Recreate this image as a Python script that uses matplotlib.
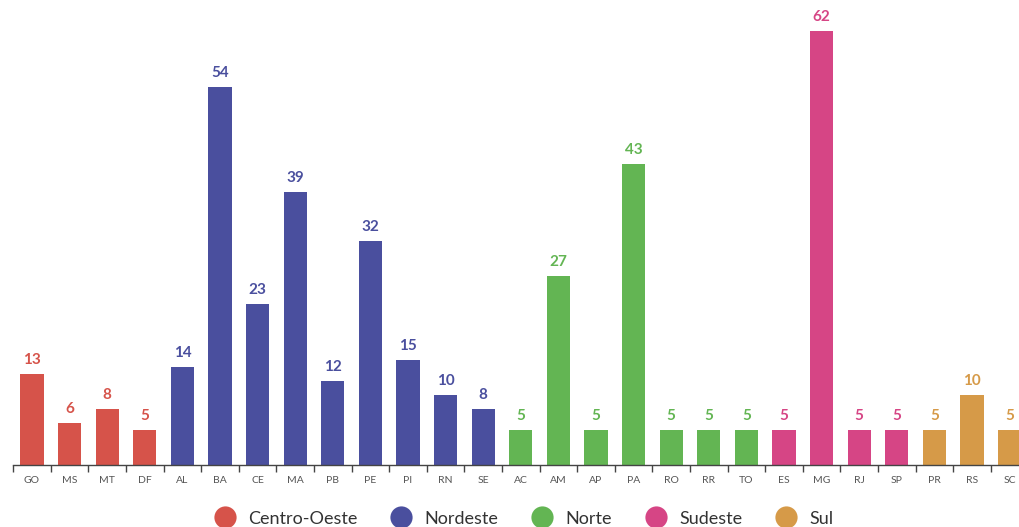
import matplotlib.pyplot as plt
from matplotlib.lines import Line2D
import numpy as np

plt.rcParams['font.family'] = ['Lato', 'DejaVu Sans']

states = ['GO', 'MS', 'MT', 'DF', 'AL', 'BA', 'CE', 'MA', 'PB', 'PE', 'PI', 'RN', 'SE',
          'AC', 'AM', 'AP', 'PA', 'RO', 'RR', 'TO', 'ES', 'MG', 'RJ', 'SP', 'PR', 'RS', 'SC']
values = [13, 6, 8, 5, 14, 54, 23, 39, 12, 32, 15, 10, 8,
          5, 27, 5, 43, 5, 5, 5, 5, 62, 5, 5, 5, 10, 5]
regions = (['Centro-Oeste'] * 4 + ['Nordeste'] * 9 + ['Norte'] * 7
           + ['Sudeste'] * 4 + ['Sul'] * 3)

region_colors = {
    'Centro-Oeste': '#d6534a',
    'Nordeste': '#4a4f9e',
    'Norte': '#63b553',
    'Sudeste': '#d64585',
    'Sul': '#d69a48',
}

fig = plt.figure(figsize=(10.2, 5.27), dpi=100)
ax = fig.add_axes([13.2 / 1020, 62 / 527, 1015.2 / 1020, 434 / 527])

x = np.arange(len(states))
colors = [region_colors[r] for r in regions]
ax.bar(x, values, width=0.62, color=colors, zorder=2)

for xi, v, c in zip(x, values, colors):
    ax.text(xi, v + 1.0, str(v), ha='center', va='bottom', color=c,
            fontsize=11, fontweight='bold')

ax.set_xlim(-0.5, len(states) - 0.5)
ax.set_ylim(0, 62)
ax.set_yticks([])

# tick labels at bar centers, tick marks between bars
ax.set_xticks(x)
ax.set_xticklabels(states, fontsize=7.5, color='#555555')
ax.tick_params(axis='x', which='major', length=0, pad=8)
ax.set_xticks(np.arange(len(states) + 1) - 0.5, minor=True)
ax.tick_params(axis='x', which='minor', length=5, width=1, color='#444444')

for side in ['top', 'right', 'left']:
    ax.spines[side].set_visible(False)
ax.spines['bottom'].set_color('#444444')
ax.spines['bottom'].set_linewidth(1)

handles = [Line2D([0], [0], marker='o', linestyle='none', markersize=16,
                  markerfacecolor=c, markeredgecolor='none', label=r)
           for r, c in region_colors.items()]
fig.legend(handles=handles, loc='lower center', ncol=5, frameon=False,
           bbox_to_anchor=(0.51, -0.03), fontsize=13, handletextpad=0.3,
           columnspacing=1.42, labelcolor='#333333')

fig.savefig('out.png', dpi=100)
